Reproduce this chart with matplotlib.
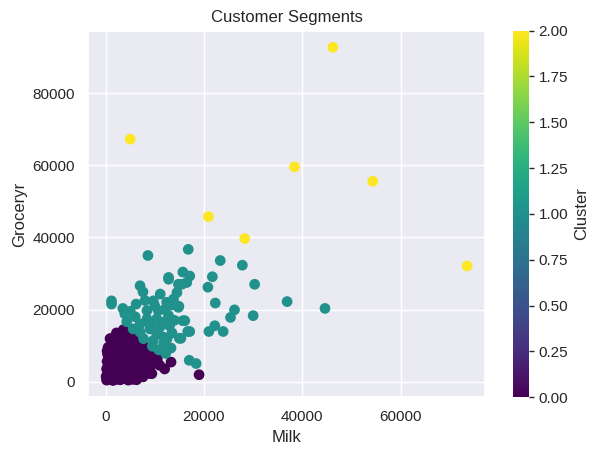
import matplotlib
matplotlib.use("Agg")
import matplotlib.pyplot as plt
import seaborn as sns
import numpy as np

# Milk / Grocery values (thousands), by cluster
milk_c0 = [0.2, 0.8, 1.5, 2.2, 3.0, 3.8, 4.6, 5.5, 6.3,
           0.1, 0.9, 1.7, 2.5, 3.3, 4.1, 5.0, 5.8, 6.8, 7.6,
           0.4, 1.2, 2.0, 2.8, 3.6, 4.4, 5.2, 6.1, 7.0, 8.0, 9.1,
           0.2, 1.0, 1.8, 2.6, 3.4, 4.2, 5.0, 5.9, 6.8, 7.7, 8.6,
           0.5, 1.3, 2.1, 2.9, 3.7, 4.6, 5.4, 6.3, 7.2, 8.1, 9.2,
           0.3, 1.1, 1.9, 2.7, 3.5, 4.3, 5.2, 6.0, 6.9, 7.8, 8.8,
           0.6, 1.4, 2.2, 3.0, 3.8, 4.7, 5.5, 6.4, 7.3, 8.3, 9.5,
           0.4, 1.2, 2.0, 2.9, 3.7, 4.5, 5.4, 6.3, 7.2, 8.4,
           0.9, 1.7, 2.5, 3.4, 4.2, 5.1, 6.0, 7.0, 8.0, 9.2, 10.0,
           1.5, 2.3, 3.1, 4.0, 4.9, 5.8, 6.7, 7.6,
           2.0, 2.9, 3.8, 4.7, 5.6, 6.5,
           1.0, 2.6, 3.4, 4.3, 5.2,
           2.8, 3.7, 4.6,
           3.5, 4.3,
           3.0, 4.0, 3.6, 2.2, 5.0, 6.0, 6.8, 7.8, 8.8, 9.8, 10.5,
           1.8, 0.5, 0.3, 0.9,
           13.3, 11.0, 9.4, 19.0, 10.5, 12.0]
grocery_c0 = [0.4, 0.7, 0.3, 0.6, 0.5, 0.8, 0.4, 0.6, 0.5,
              1.4, 1.6, 1.3, 1.7, 1.5, 1.2, 1.6, 1.4, 1.8, 1.3,
              2.6, 2.4, 2.7, 2.3, 2.5, 2.8, 2.4, 2.6, 2.3, 2.7, 2.2,
              3.5, 3.7, 3.3, 3.6, 3.4, 3.8, 3.5, 3.3, 3.6, 3.4, 3.7,
              4.4, 4.6, 4.3, 4.7, 4.5, 4.4, 4.6, 4.3, 4.5, 4.7, 4.4,
              5.6, 5.4, 5.7, 5.5, 5.3, 5.6, 5.4, 5.7, 5.5, 5.3, 5.6,
              6.4, 6.6, 6.3, 6.7, 6.5, 6.4, 6.6, 6.3, 6.5, 6.7, 6.2,
              7.6, 7.4, 7.7, 7.5, 7.3, 7.6, 7.4, 7.5, 7.7, 7.3,
              8.4, 8.6, 8.3, 8.7, 8.5, 8.4, 8.6, 8.3, 8.5, 8.2, 8.6,
              9.6, 9.4, 9.7, 9.5, 9.3, 9.6, 9.4, 9.2,
              10.4, 10.6, 10.3, 10.7, 10.5, 10.2,
              11.9, 11.4, 11.6, 11.3, 11.5,
              12.5, 12.7, 12.4,
              13.6, 13.2,
              13.0, 13.8, 14.4, 13.5, 12.8, 11.8, 10.8, 9.8, 9.0, 7.5, 6.8,
              12.2, 9.5, 8.5, 11.9,
              5.4, 4.5, 2.2, 1.9, 6.0, 3.5]

milk_c1 = [8.6, 16.8, 23.3, 27.8, 12.8, 15.7, 17.1, 21.7, 20.8, 30.3,
           22.3, 26.2, 25.4, 30.0, 36.9, 44.6, 16.1, 22.2, 17.1, 21.0,
           23.9, 17.0, 18.4, 13.3, 13.3, 14.9, 15.5, 14.5, 15.3, 12.5,
           7.0, 7.6, 12.8, 14.8, 16.5, 1.2, 1.2, 3.5, 3.9, 6.2,
           8.4, 9.7, 11.1, 13.8, 12.4, 10.7, 14.8, 15.7, 16.7, 15.0,
           4.3, 7.0, 8.4, 10.4, 11.8, 12.8, 5.6, 7.0, 9.0, 10.4,
           11.8, 12.8, 11.8, 9.7, 7.7,
           9.0, 11.0, 13.0, 12.0, 10.0, 13.5, 14.0, 8.0, 6.0, 5.0,
           9.5, 10.8, 12.2]
grocery_c1 = [35.0, 36.7, 33.6, 32.3, 28.9, 30.4, 29.3, 29.1, 26.2, 27.0,
              21.8, 19.9, 17.8, 18.3, 22.2, 20.3, 16.9, 15.5, 13.9, 13.9,
              13.9, 5.9, 5.0, 9.3, 21.2, 20.9, 27.0, 24.7, 12.0, 11.9,
              26.6, 24.9, 28.4, 27.0, 27.5, 22.4, 21.5, 20.3, 18.8, 21.5,
              19.7, 22.4, 24.3, 22.9, 22.0, 19.7, 20.6, 16.9, 13.9, 12.0,
              16.6, 16.0, 17.4, 17.4, 16.5, 18.3, 14.6, 13.7, 14.6, 13.2,
              12.3, 9.1, 10.5, 11.4, 11.9,
              16.0, 15.0, 15.5, 20.0, 21.0, 13.5, 17.0, 22.5, 18.0, 19.5,
              9.8, 8.8, 7.8]

milk_c2 = [46.2, 5.0, 38.4, 54.3, 20.9, 28.3, 73.5]
grocery_c2 = [92.8, 67.3, 59.6, 55.6, 45.8, 39.7, 32.1]

milk = np.array(milk_c0 + milk_c1 + milk_c2) * 1000
grocery = np.array(grocery_c0 + grocery_c1 + grocery_c2) * 1000
cluster = np.array([0] * len(milk_c0) + [1] * len(milk_c1) + [2] * len(milk_c2))

sns.set_theme()
plt.rcParams['font.family'] = ['Liberation Sans', 'DejaVu Sans']

fig = plt.figure(figsize=(5.99, 4.57), dpi=100)
ax = fig.add_axes([0.147, 0.131, 0.663, 0.802])
cax = fig.add_axes([0.856, 0.131, 0.027, 0.802])

sc = ax.scatter(milk, grocery, c=cluster, cmap='viridis', s=45)
ax.set_title('Customer Segments', fontsize=12)
ax.set_xlabel('Milk', fontsize=12)
ax.set_ylabel('Groceryr', fontsize=12)
ax.tick_params(labelsize=11)
ax.set_yticks([0, 20000, 40000, 60000, 80000])
ax.set_xticks([0, 20000, 40000, 60000])

cb = fig.colorbar(sc, cax=cax)
cb.set_label('Cluster', fontsize=12)
cb.outline.set_visible(False)
cb.set_ticks([0, 0.25, 0.5, 0.75, 1.0, 1.25, 1.5, 1.75, 2.0])
cb.ax.tick_params(labelsize=11, length=3.5, width=1, color='#262626')

fig.savefig('out.png', dpi=100)
